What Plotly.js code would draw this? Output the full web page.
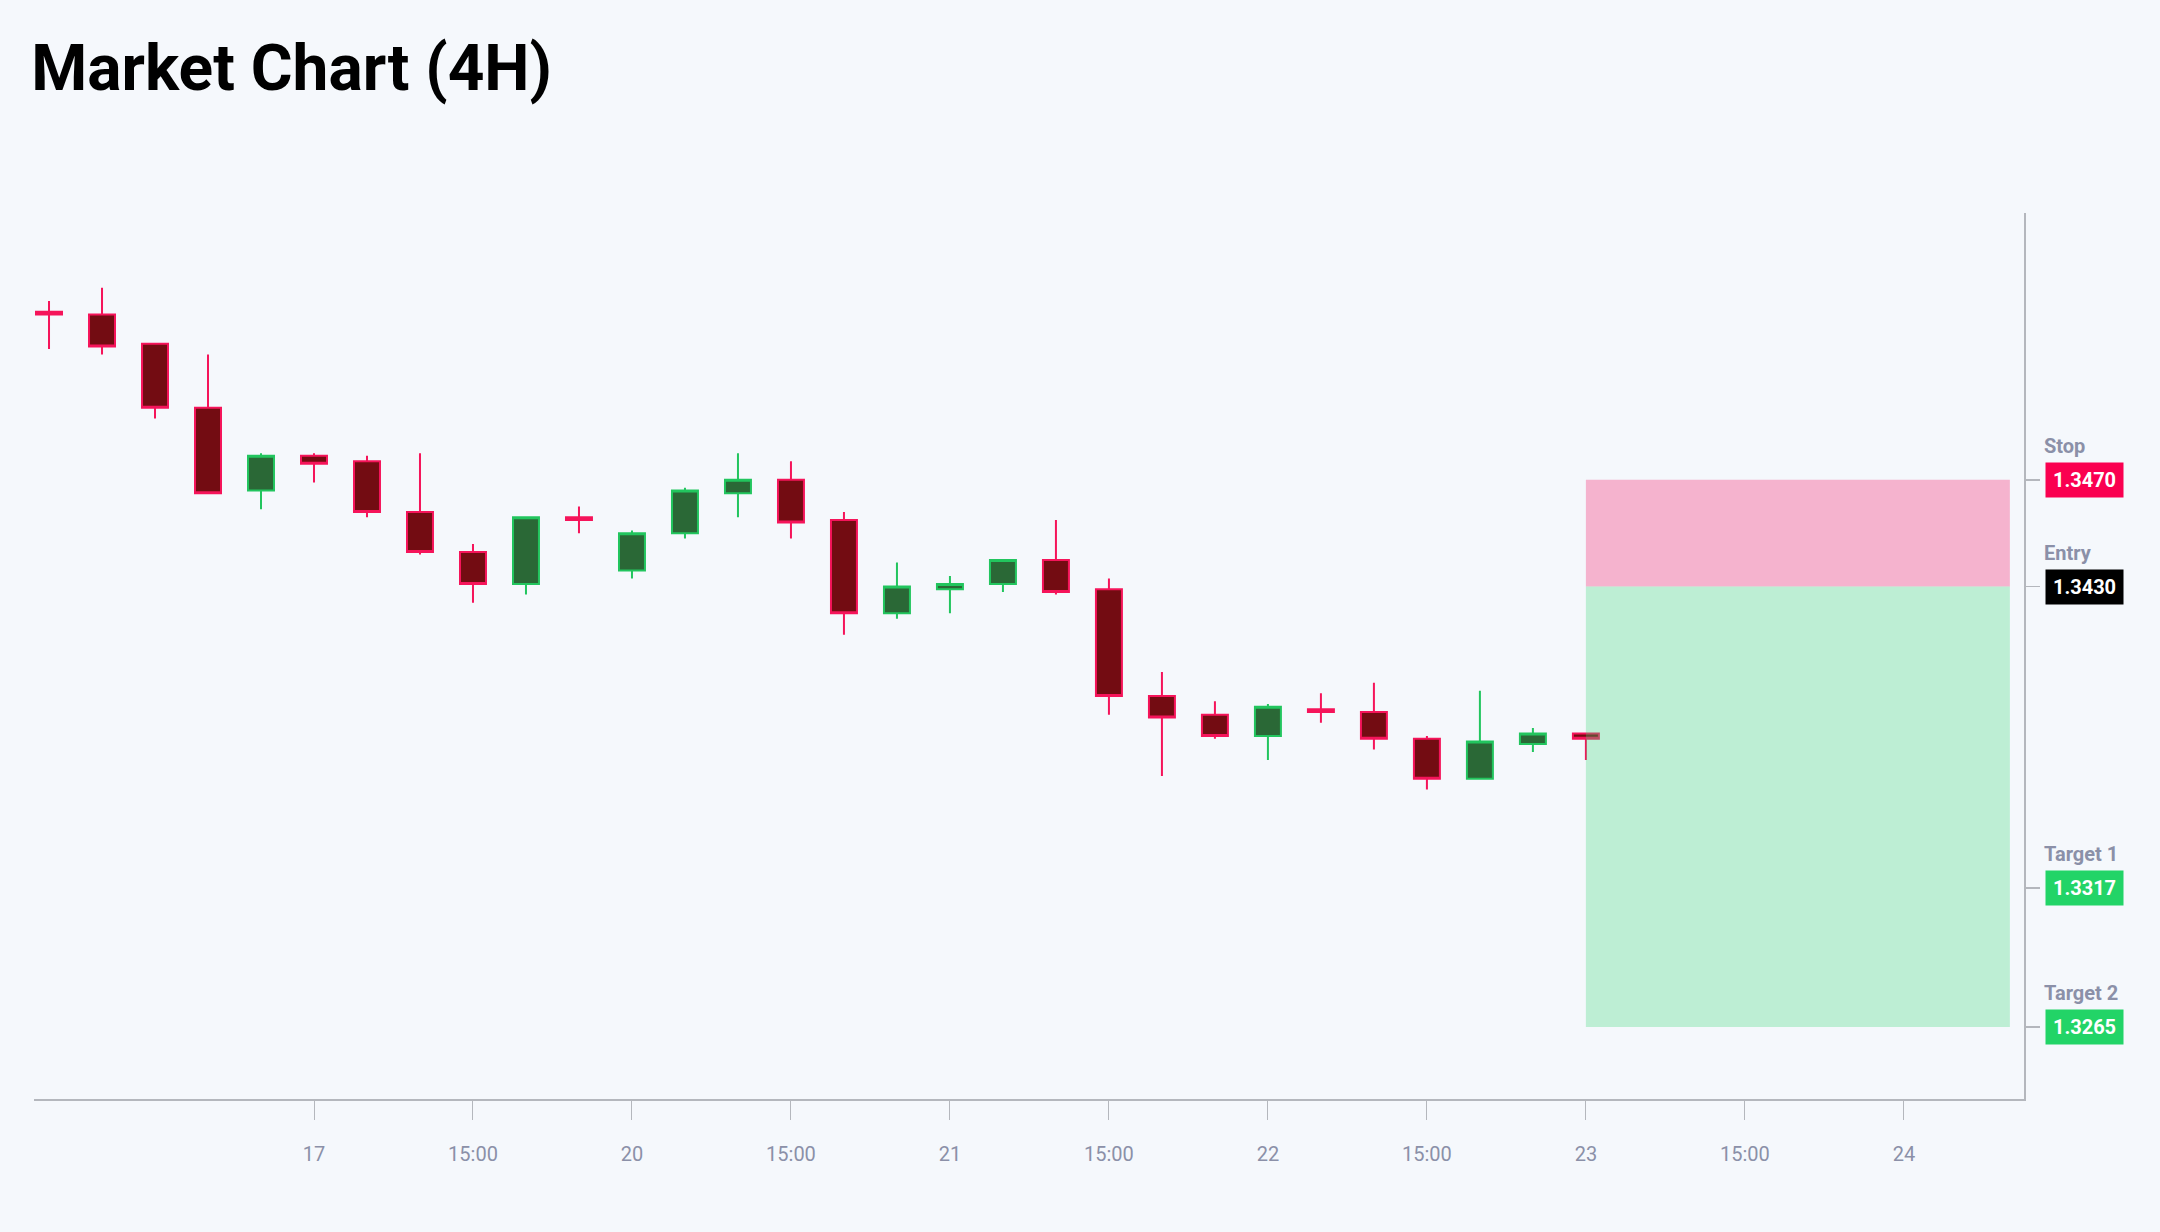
<!DOCTYPE html>
<html>
<head>
<meta charset="utf-8">
<script src="https://cdn.plot.ly/plotly-3.0.1.min.js"></script>
<style>
  html, body { margin: 0; padding: 0; background: #F5F8FC; }
  #chart { width: 2160px; height: 1232px; }
</style>
</head>
<body>
<div id="chart"></div>
<script>
// 4H candles, Thu 16 Nov -> Thu 23 Nov 2023 (weekend skipped)
var times = [
  '2023-11-16 04:00', '2023-11-16 08:00', '2023-11-16 12:00', '2023-11-16 16:00', '2023-11-16 20:00',
  '2023-11-17 00:00', '2023-11-17 04:00', '2023-11-17 08:00', '2023-11-17 12:00', '2023-11-17 16:00', '2023-11-17 20:00',
  '2023-11-20 00:00', '2023-11-20 04:00', '2023-11-20 08:00', '2023-11-20 12:00', '2023-11-20 16:00', '2023-11-20 20:00',
  '2023-11-21 00:00', '2023-11-21 04:00', '2023-11-21 08:00', '2023-11-21 12:00', '2023-11-21 16:00', '2023-11-21 20:00',
  '2023-11-22 00:00', '2023-11-22 04:00', '2023-11-22 08:00', '2023-11-22 12:00', '2023-11-22 16:00', '2023-11-22 20:00',
  '2023-11-23 00:00'
];
var opens  = [1.3533, 1.3532, 1.3521, 1.3497, 1.3466, 1.3479, 1.3477, 1.3458, 1.3443, 1.3431,
              1.3456, 1.3436, 1.3450, 1.3465, 1.3470, 1.3455, 1.3420, 1.3429, 1.3431, 1.3440,
              1.3429, 1.3389, 1.3382, 1.3374, 1.3384, 1.3383, 1.3373, 1.3358, 1.3371, 1.3375];
var highs  = [1.3537, 1.3542, 1.3521, 1.3517, 1.3480, 1.3480, 1.3479, 1.3480, 1.3446, 1.3456,
              1.3460, 1.3451, 1.3467, 1.3480, 1.3477, 1.3458, 1.3439, 1.3434, 1.3440, 1.3455,
              1.3433, 1.3398, 1.3387, 1.3386, 1.3390, 1.3394, 1.3374, 1.3391, 1.3377, 1.3375];
var lows   = [1.3519, 1.3517, 1.3493, 1.3465, 1.3459, 1.3469, 1.3456, 1.3442, 1.3424, 1.3427,
              1.3450, 1.3433, 1.3448, 1.3456, 1.3448, 1.3412, 1.3418, 1.3420, 1.3428, 1.3427,
              1.3382, 1.3359, 1.3373, 1.3365, 1.3379, 1.3369, 1.3354, 1.3358, 1.3368, 1.3365];
var closes = [1.3532, 1.3520, 1.3497, 1.3465, 1.3479, 1.3476, 1.3458, 1.3443, 1.3431, 1.3456,
              1.3455, 1.3450, 1.3466, 1.3470, 1.3454, 1.3420, 1.3430, 1.3431, 1.3440, 1.3428,
              1.3389, 1.3381, 1.3374, 1.3385, 1.3383, 1.3373, 1.3358, 1.3372, 1.3375, 1.3373];

// trade levels
var levelNames  = ['Stop', 'Entry', 'Target 1', 'Target 2'];
var levelValues = [1.3470, 1.3430, 1.3317, 1.3265];
var levelColors = ['#FA0050', '#000000', '#22D467', '#22D467'];
var tradeStart = '2023-11-23 00:00';
var tradeEnd   = '2023-11-24 08:00';

var tickVals = ['2023-11-17 00:00', '2023-11-17 12:00', '2023-11-20 00:00', '2023-11-20 12:00',
                '2023-11-21 00:00', '2023-11-21 12:00', '2023-11-22 00:00', '2023-11-22 12:00',
                '2023-11-23 00:00', '2023-11-23 12:00', '2023-11-24 00:00'];
var tickText = ['17', '15:00', '20', '15:00', '21', '15:00', '22', '15:00', '23', '15:00', '24'];

var candles = {
  type: 'candlestick',
  x: times, open: opens, high: highs, low: lows, close: closes,
  increasing: {line: {color: '#22C55E', width: 2}, fillcolor: '#2A6836'},
  decreasing: {line: {color: '#F5145A', width: 2}, fillcolor: '#730C12'},
  hoverinfo: 'skip',
  showlegend: false
};

var shapes = [
  {type: 'rect', xref: 'x', yref: 'y', layer: 'above',
   x0: tradeStart, x1: tradeEnd, y0: levelValues[1], y1: levelValues[0],
   fillcolor: 'rgba(245,20,100,0.3)', line: {width: 0}},
  {type: 'rect', xref: 'x', yref: 'y', layer: 'above',
   x0: tradeStart, x1: tradeEnd, y0: levelValues[3], y1: levelValues[1],
   fillcolor: 'rgba(60,215,120,0.3)', line: {width: 0}}
];

var annotations = [];
levelValues.forEach(function (v, i) {
  annotations.push({
    xref: 'paper', yref: 'y', x: 1, y: v, xanchor: 'left', yanchor: 'middle',
    xshift: 21, text: v.toFixed(4), showarrow: false,
    bgcolor: levelColors[i], borderpad: 2, width: 73, height: 30, align: 'center',
    font: {family: 'Roboto, sans-serif', size: 20, color: '#FFFFFF', weight: 'bold'}
  });
  annotations.push({
    xref: 'paper', yref: 'y', x: 1, y: v, xanchor: 'left', yanchor: 'middle',
    xshift: 18, yshift: 34, text: levelNames[i], showarrow: false,
    font: {family: 'Roboto, sans-serif', size: 20, color: '#8B90A8', weight: 'bold'}
  });
});

var layout = {
  width: 2160, height: 1232,
  paper_bgcolor: '#F5F8FC', plot_bgcolor: '#F5F8FC',
  margin: {l: 34, r: 136, t: 213, b: 133},
  font: {family: 'Roboto, sans-serif'},
  title: {
    text: 'Market Chart (4H)',
    font: {family: 'Roboto, sans-serif', size: 64, color: '#000000', weight: 'bold'},
    xref: 'container', x: 0.0145, xanchor: 'left',
    yref: 'container', y: 0.945, yanchor: 'middle'
  },
  xaxis: {
    type: 'date',
    range: ['2023-11-16 02:52', '2023-11-24 09:04'],
    rangebreaks: [{bounds: ['sat', 'mon']}],
    rangeslider: {visible: false},
    showgrid: false, zeroline: false,
    showline: true, linecolor: '#B4B7BD', linewidth: 2,
    tickmode: 'array', tickvals: tickVals, ticktext: tickText,
    ticks: 'outside', ticklen: 19, tickwidth: 1, tickcolor: '#B4B7BD',
    ticklabelstandoff: 17,
    tickfont: {family: 'Roboto, sans-serif', size: 20, color: '#8B90A8'},
    fixedrange: true
  },
  yaxis: {
    side: 'right',
    range: [1.3238, 1.3570],
    showgrid: false, zeroline: false,
    showline: true, linecolor: '#B4B7BD', linewidth: 1.5,
    tickmode: 'array', tickvals: levelValues,
    ticks: 'outside', ticklen: 14, tickwidth: 1.5, tickcolor: '#B4B7BD',
    showticklabels: false,
    fixedrange: true
  },
  shapes: shapes,
  annotations: annotations,
  showlegend: false
};

Plotly.newPlot('chart', [candles], layout, {displayModeBar: false, staticPlot: true});
</script>
</body>
</html>
